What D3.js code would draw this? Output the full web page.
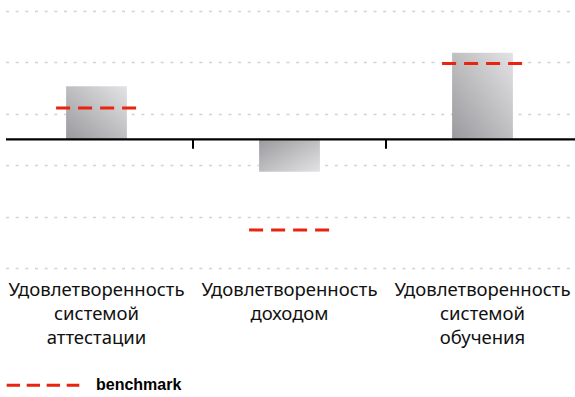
<!DOCTYPE html>
<html>
<head>
<meta charset="utf-8">
<script src="https://cdn.jsdelivr.net/npm/d3@7"></script>
<style>
  html, body { margin: 0; padding: 0; background: #fff; }
  svg { display: block; }
</style>
</head>
<body>
<svg id="chart" width="575" height="397"></svg>
<script>
// Categories (each label split into lines)
const categories = [
  "Удовлетворенность системой аттестации",
  "Удовлетворенность доходом",
  "Удовлетворенность системой обучения"
];
const categoryLines = [
  ["Удовлетворенность", "системой", "аттестации"],
  ["Удовлетворенность", "доходом"],
  ["Удовлетворенность", "системой", "обучения"]
];
// Score per category and its benchmark
const values = [10.3, -6.3, 16.8];
const benchmarks = [6.1, -17.6, 14.7];
// Horizontal gridline positions
const gridTicks = [25, 15, 5, -5, -15, -25];
const legendLabel = "benchmark";

const svg = d3.select("#chart");
const W = 575;

const x = d3.scaleBand().domain(categories).range([0, 579]).paddingInner(0).paddingOuter(0);
const y = d3.scaleLinear().domain([-25, 25]).range([268.05, 10.55]);

const barW = x.bandwidth() * 0.315;
const benchW = barW + 20;

// Gradients: dark at the base of each bar, light toward its tip
const defs = svg.append("defs");
function makeGrad(id, up) {
  const g = defs.append("linearGradient").attr("id", id)
    .attr("x1", 0).attr("y1", up ? 1 : 0).attr("x2", 1).attr("y2", up ? 0 : 1);
  g.append("stop").attr("offset", "0%").attr("stop-color", "#9a9a9e");
  g.append("stop").attr("offset", "100%").attr("stop-color", "#e3e3e5");
}
makeGrad("gradUp", true);
makeGrad("gradDown", false);

// Dotted gridlines
svg.append("g").selectAll("line").data(gridTicks).join("line")
  .attr("x1", 6).attr("x2", 572)
  .attr("y1", d => Math.round(y(d)) + 0.5).attr("y2", d => Math.round(y(d)) + 0.5)
  .attr("stroke", "#d2d2d2").attr("stroke-width", 1.6)
  .attr("stroke-dasharray", "3,6.67");

// Bars
svg.append("g").selectAll("rect").data(values).join("rect")
  .attr("x", (d, i) => x(categories[i]) + x.bandwidth() / 2 - barW / 2)
  .attr("width", barW)
  .attr("y", d => y(Math.max(0, d)))
  .attr("height", d => Math.abs(y(d) - y(0)))
  .attr("fill", d => d >= 0 ? "url(#gradUp)" : "url(#gradDown)");

// Zero axis with ticks between categories
const axis = d3.axisBottom(x).tickSize(0).tickFormat("");
const axisG = svg.append("g").attr("transform", `translate(0,${y(0)})`).call(axis);
axisG.select(".domain").remove();
svg.append("line")
  .attr("x1", 6).attr("x2", W).attr("y1", y(0)).attr("y2", y(0))
  .attr("stroke", "#000").attr("stroke-width", 2.2);
const bounds = categories.slice(1).map(c => x(c));
svg.append("g").selectAll("line").data(bounds).join("line")
  .attr("x1", d => d).attr("x2", d => d)
  .attr("y1", y(0)).attr("y2", y(0) + 9.5)
  .attr("stroke", "#000").attr("stroke-width", 2);

// Benchmark markers
svg.append("g").selectAll("line").data(benchmarks).join("line")
  .attr("x1", (d, i) => x(categories[i]) + x.bandwidth() / 2 - benchW / 2)
  .attr("x2", (d, i) => x(categories[i]) + x.bandwidth() / 2 + benchW / 2)
  .attr("y1", d => y(d)).attr("y2", d => y(d))
  .attr("stroke", "#e8230f").attr("stroke-width", 3)
  .attr("stroke-dasharray", "14,8");

// Category labels
const labels = svg.append("g")
  .attr("font-family", "'Noto Sans', sans-serif")
  .attr("font-size", 18.5).attr("fill", "#111").attr("text-anchor", "middle");
categoryLines.forEach((lines, i) => {
  const t = labels.append("text").attr("x", x(categories[i]) + x.bandwidth() / 2);
  lines.forEach((ln, j) => {
    t.append("tspan").attr("x", x(categories[i]) + x.bandwidth() / 2)
      .attr("y", 295.7 + j * 24).text(ln);
  });
});

// Legend
svg.append("line")
  .attr("x1", 6.7).attr("x2", 79.3).attr("y1", 385.3).attr("y2", 385.3)
  .attr("stroke", "#e8230f").attr("stroke-width", 3)
  .attr("stroke-dasharray", "13.3,6.7");
svg.append("text").attr("x", 96).attr("y", 390)
  .attr("font-family", "'Liberation Sans', Arial, sans-serif")
  .attr("font-weight", "bold").attr("font-size", 16).attr("fill", "#000")
  .text(legendLabel);
</script>
</body>
</html>
